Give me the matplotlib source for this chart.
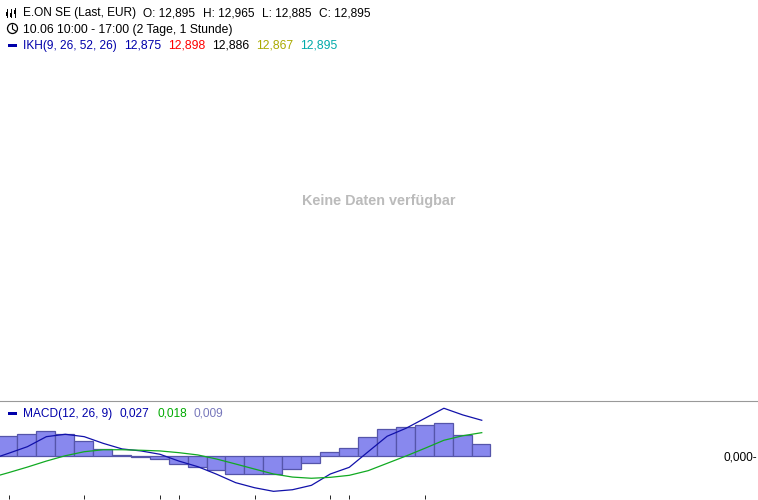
import matplotlib
matplotlib.use("Agg")
import matplotlib.pyplot as plt
from matplotlib.patches import Circle, Rectangle

plt.rcParams['font.family'] = ['Liberation Sans', 'DejaVu Sans']

W, H = 758, 500

# MACD panel, the first entry of macd_line/signal_line sits just off the left edge
hist = [.0148, .0163, .0185, .0163, .0110, .0050, .0005, -.0010, -.0025, -.0062, -.0085, -.0107, -.0137,
        -.0137, -.0137, -.0100, -.0055, .0028, .0058, .0140, .0200, .0215, .0230, .0245, .0155, .0088]
macd_line = [-.0028, .0020, .0070, .0145, .0163, .0145, .0095, .0053, .0038, .0013, -.0038, -.0080, -.0137,
             -.0200, -.0238, -.0265, -.0253, -.0220, -.0135, -.0085, .0032, .0148, .0208, .0283, .0358,
             .0308, .0268]
signal_line = [-.0165, -.0125, -.0083, -.0038, .0002, .0032, .0047, .0047, .0043, .0038, .0025, .0008, -.0023,
               -.0060, -.0098, -.0135, -.0158, -.0167, -.0160, -.0145, -.0110, -.0055, 0, .0058, .0118,
               .0152, .0175]
tick_idx = [0, 4, 8, 9, 13, 17, 18, 22]

title_parts = ["E.ON SE (Last, EUR)", "O: 12,895", "H: 12,965", "L: 12,885", "C: 12,895"]
title_x = [23, 143, 203, 262, 319]
period = "10.06 10:00 - 17:00 (2 Tage, 1 Stunde)"
ikh_parts = ["IKH(9, 26, 52, 26)", "12,875", "12,898", "12,886", "12,867", "12,895"]
ikh_x = [23, 124, 168, 212, 256, 300]
ikh_colors = ['#0000aa', '#0000aa', '#ff0000', '#000000', '#aaaa00', '#00aaaa']
macd_parts = ["MACD(12, 26, 9)", "0,027", "0,018", "0,009"]
macd_x = [23, 120, 157, 194]
macd_colors = ['#0000aa', '#0000aa', '#00aa00', '#7777bb']

fig = plt.figure(figsize=(W / 100, H / 100), dpi=100)

# panel runs from y=400.5 to y=495 in pixels, one pixel is 0.00075
ax = fig.add_axes([0, 1 - 495 / H, 1, 94.5 / H])
ax.set_xlim(-8.5 / 18.93, (W - 8.5) / 18.93)
ax.set_ylim(-39 * .00075, 55.5 * .00075)
# bars sit slightly left of the line vertices in the original
ax.bar([i - 0.04 for i in range(len(hist))], hist, width=1, color='#8888ee', edgecolor='#5555aa', linewidth=0.9)
ax.plot(range(-1, len(hist)), macd_line, color='#1111aa', lw=0.9)
ax.plot(range(-1, len(hist)), signal_line, color='#11aa22', lw=0.9)
for name in ['left', 'right', 'bottom']:
    ax.spines[name].set_visible(False)
ax.spines['top'].set_color('#999999')
ax.spines['top'].set_linewidth(0.8)
ax.set_yticks([])
ax.set_xticks(tick_idx)
ax.set_xticklabels([])
ax.tick_params(axis='x', length=3, width=0.7, color='#222222')

# overlay in pixel coordinates for the header texts and icons
ov = fig.add_axes([0, 0, 1, 1])
ov.set_xlim(0, W)
ov.set_ylim(H, 0)
ov.axis('off')


def label(x, y, s, color='#000000', **kw):
    kw.setdefault('fontsize', 8.6)
    ov.text(x, y, s, color=color, va='center', ha=kw.pop('ha', 'left'), **kw)


for x, s in zip(title_x, title_parts):
    label(x, 13, s)
label(23, 29.5, period, fontsize=8.75)
for x, s, c in zip(ikh_x, ikh_parts, ikh_colors):
    label(x, 46, s, c, fontsize=8.8 if x > 23 else 8.6)
for x, s, c in zip(macd_x, macd_parts, macd_colors):
    label(x, 414, s, c)
label(757, 457, "0,000-", ha='right')
label(379, 201, "Keine Daten verfügbar", '#bbbbbb', fontsize=10.4, fontweight='bold', ha='center')

# candle icon
for x, y0, y1, b0, b1 in [(7, 9, 17, 12, 16), (11, 9, 17, 13, 16.5), (15, 8, 16.5, 10, 14)]:
    ov.plot([x, x], [y0, y1], color='#000000', lw=0.7)
    ov.add_patch(Rectangle((x - 1, b0), 2, b1 - b0, fc='#000000', ec='none'))

# clock icon
ov.add_patch(Circle((12.5, 28.5), 5, fc='none', ec='#000000', lw=0.9))
ov.plot([12.5, 12.5, 15.5], [25, 29, 31], color='#000000', lw=0.8)

# legend dashes
ov.add_patch(Rectangle((7.5, 43.5), 9.5, 3, fc='#0000aa', ec='none'))
ov.add_patch(Rectangle((7.5, 411.5), 9.5, 3, fc='#0000aa', ec='none'))

fig.savefig('out.png', dpi=100)
